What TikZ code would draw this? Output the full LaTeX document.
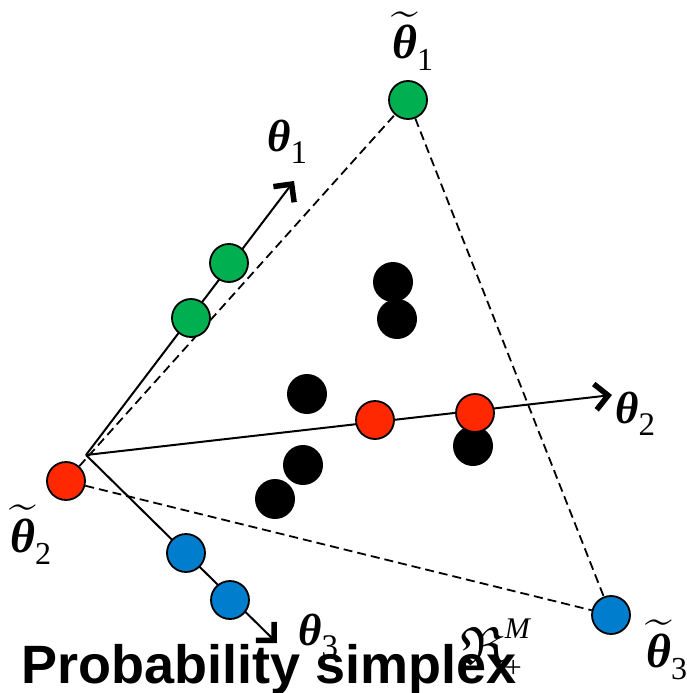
\documentclass[tikz,border=0pt]{standalone}
\usepackage{amsmath,amssymb}
\usepackage{fontspec}
\setmainfont{Liberation Serif}
\newfontfamily\titlefont{Liberation Sans}
\usetikzlibrary{arrows.meta}
\definecolor{ptgreen}{RGB}{0,176,80}
\definecolor{ptred}{RGB}{255,40,0}
\definecolor{ptblue}{RGB}{0,125,204}
\tikzset{
  axisarrow/.style={line width=2pt,-{Straight Barb[length=13pt,width=26pt,line width=5.5pt]}},
  simplexline/.style={line width=1.8pt,dash pattern=on 9pt off 5pt},
  dot/.style={circle,draw=black,line width=1.8pt,minimum size=38pt,inner sep=0pt},
  blackdot/.style={circle,fill=black,minimum size=40pt,inner sep=0pt},
  lab/.style={inner sep=0pt,anchor=base west},
}
\newcommand{\thb}{\textbf{\textit{θ}}}
\newcommand{\plainlab}[1]{{\fontsize{45}{45}\selectfont\thb}{\fontsize{33}{33}\selectfont\raisebox{-12pt}{#1}}}
\newcommand{\tildelab}[1]{{\fontsize{48}{48}\selectfont$\widetilde{\hbox{\thb}}$}{\fontsize{32}{32}\selectfont\raisebox{-12pt}{#1}}}
\begin{document}
\begin{tikzpicture}[x=1pt,y=-1pt]
\useasboundingbox (0,0) rectangle (687,693);
% origin and end points
\coordinate (O) at (86,455);
\coordinate (e1) at (294,181);
\coordinate (e2) at (612,395);
\coordinate (e3) at (277,643);
% simplex vertices
\node[dot,fill=ptgreen] (t1) at (408,100) {};
\node[dot,fill=ptred] (t2) at (66,481) {};
\node[dot,fill=ptblue] (t3) at (611,615) {};
% dashed simplex edges
\draw[simplexline] (t2) -- (t1);
\draw[simplexline] (t1) -- (t3);
\draw[simplexline] (t2) -- (t3);
% axes
\draw[axisarrow] (O) -- (e1);
\draw[axisarrow] (O) -- (e2);
\draw[axisarrow] (O) -- (e3);
% black points
\node[blackdot] (b1) at (393,282) {};
\node[blackdot] (b2) at (397,319) {};
\node[blackdot] (b3) at (307,394) {};
\node[blackdot] (b5) at (275,499) {};
\node[blackdot] (b4) at (303,465) {};
\node[blackdot] (b6) at (473,446) {};
% points on axes
\node[dot,fill=ptgreen] (g1) at (229,263) {};
\node[dot,fill=ptgreen] (g2) at (191,318) {};
\node[dot,fill=ptred] (r1) at (375,420) {};
\node[dot,fill=ptred] (r2) at (475,413) {};
\node[dot,fill=ptblue] (u1) at (186,553) {};
\node[dot,fill=ptblue] (u2) at (230,600) {};
% labels
\node[lab] (l1) at (267,151) {\plainlab{1}};
\node[lab] (l2) at (615,423) {\plainlab{2}};
\node[lab] (l3) at (298,645) {\plainlab{3}};
\node[lab] (lt1) at (392,59) {\tildelab{1}};
\node[lab] (lt2) at (10,552) {\tildelab{2}};
\node[lab] (lt3) at (646,667) {\tildelab{3}};
\node[lab] (R) at (460,664) {{\fontsize{54}{54}\selectfont$\mathfrak{R}$}\rlap{\raisebox{26pt}{\fontsize{30}{30}\selectfont\textit{M}}}{\fontsize{30}{30}\selectfont\raisebox{-13pt}{+}}};
\node[lab] (title) at (21,683) {\fontsize{54}{54}\selectfont\titlefont\bfseries Probability simplex};
\end{tikzpicture}
\end{document}
